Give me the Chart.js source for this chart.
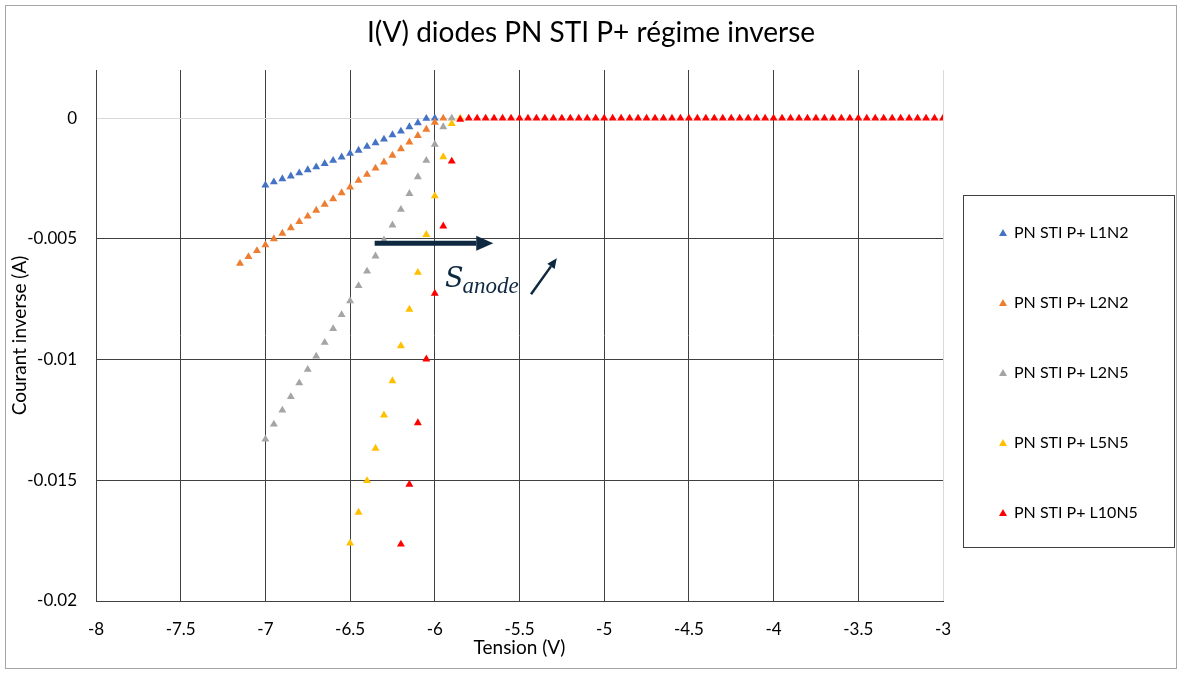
<!DOCTYPE html>
<html>
<head>
<meta charset="utf-8">
<script src="https://cdn.jsdelivr.net/npm/chart.js@4"></script>
<style>
  html, body { margin:0; padding:0; background:#fff; }
  #wrap { width:1182px; height:674px; position:relative; }
</style>
</head>
<body>
<div id="wrap"><canvas id="ivChart" width="1182" height="674"></canvas></div>
<script>
// series labels and colours
const chartTitle = 'I(V) diodes PN STI P+ régime inverse'
const seriesLabels = ['PN STI P+ L1N2','PN STI P+ L2N2','PN STI P+ L2N5','PN STI P+ L5N5','PN STI P+ L10N5']
const seriesColors = ['#4472C4','#ED7D31','#A5A5A5','#FFC000','#FF0000']

// tension (V) / courant (A)
const l1n2V = [-7.00,-6.95,-6.90,-6.85,-6.80,-6.75,-6.70,-6.65,-6.60,-6.55,-6.50,-6.45,-6.40,-6.35,-6.30,-6.25,-6.20,-6.15,-6.10,-6.05,-6.00]
const l1n2I = [-0.00277,-0.00264,-0.00251,-0.00240,-0.00227,-0.00214,-0.00202,-0.00188,-0.00175,-0.00161,-0.00146,-0.00133,-0.00117,-0.00102,-0.00087,-0.00069,-0.00054,-0.00036,-0.00019,-0.00001,0]

const l2n2V = [-7.15,-7.10,-7.05,-7.00,-6.95,-6.90,-6.85,-6.80,-6.75,-6.70,-6.65,-6.60,-6.55,-6.50,-6.45,-6.40,-6.35,-6.30,-6.25,-6.20,-6.15,-6.10,-6.05,-6.00,-5.95]
const l2n2I = [-0.00602,-0.00574,-0.00549,-0.00525,-0.00500,-0.00477,-0.00454,-0.00429,-0.00406,-0.00382,-0.00357,-0.00334,-0.00309,-0.00286,-0.00258,-0.00233,-0.00207,-0.00182,-0.00154,-0.00127,-0.00099,-0.00072,-0.00046,-0.00017,0]

const l2n5V = [-7.00,-6.95,-6.90,-6.85,-6.80,-6.75,-6.70,-6.65,-6.60,-6.55,-6.50,-6.45,-6.40,-6.35,-6.30,-6.25,-6.20,-6.15,-6.10,-6.05,-6.00,-5.95,-5.90]
const l2n5I = [-0.01330,-0.01268,-0.01210,-0.01154,-0.01097,-0.01041,-0.00986,-0.00929,-0.00872,-0.00814,-0.00757,-0.00694,-0.00634,-0.00571,-0.00505,-0.00443,-0.00378,-0.00312,-0.00243,-0.00175,-0.00108,-0.00036,0]

const l5n5V = [-6.50,-6.45,-6.40,-6.35,-6.30,-6.25,-6.20,-6.15,-6.10,-6.05,-6.00,-5.95,-5.90,-5.85]
const l5n5I = [-0.01761,-0.01633,-0.01502,-0.01368,-0.01230,-0.01088,-0.00943,-0.00792,-0.00639,-0.00482,-0.00322,-0.00160,-0.00022,0]

const l10n5V = [-6.20,-6.15,-6.10,-6.05,-6.00,-5.95,-5.90,-5.85,-5.80,-5.75,-5.70,-5.65,-5.60,-5.55,-5.50,-5.45,-5.40,-5.35,-5.30,-5.25,-5.20,-5.15,-5.10,-5.05,-5.00,-4.95,-4.90,-4.85,-4.80,-4.75,-4.70,-4.65,-4.60,-4.55,-4.50,-4.45,-4.40,-4.35,-4.30,-4.25,-4.20,-4.15,-4.10,-4.05,-4.00,-3.95,-3.90,-3.85,-3.80,-3.75,-3.70,-3.65,-3.60,-3.55,-3.50,-3.45,-3.40,-3.35,-3.30,-3.25,-3.20,-3.15,-3.10,-3.05,-3.00]
const l10n5I = [-0.01765,-0.01517,-0.01262,-0.00998,-0.00726,-0.00447,-0.00178,-0.00005,0,0,0,0,0,0,0,0,0,0,0,0,0,0,0,0,0,0,0,0,0,0,0,0,0,0,0,0,0,0,0,0,0,0,0,0,0,0,0,0,0,0,0,0,0,0,0,0,0,0,0,0,0,0,0,0,0]

// axis ticks
const xTicks = [-8,-7.5,-7,-6.5,-6,-5.5,-5,-4.5,-4,-3.5,-3]
const yTicks = [-0.02,-0.015,-0.01,-0.005,0]

// annotation (arrows + S_anode), in data units
const mainArrow = {from:[-6.355,-0.00518], to:[-5.655,-0.00518]}
const smallArrow = {from:[-5.432,-0.00729], to:[-5.28,-0.0058]}
const sLabelPos = [-5.94,-0.00700]

const allV = [l1n2V,l2n2V,l2n5V,l5n5V,l10n5V]
const allI = [l1n2I,l2n2I,l2n5I,l5n5I,l10n5I]

const FONT = 'Lato, "Open Sans", sans-serif'
const INK = '#0E2841'

function toPts(vs, is) { return vs.map((v,i) => ({x:v, y:is[i]})) }

function arrow(ctx, x1, y1, x2, y2, w, headL, headW) {
  const a = Math.atan2(y2-y1, x2-x1)
  const bx = x2 - Math.cos(a)*headL, by = y2 - Math.sin(a)*headL
  ctx.save()
  ctx.strokeStyle = INK; ctx.fillStyle = INK; ctx.lineWidth = w; ctx.lineCap = 'butt'
  ctx.beginPath(); ctx.moveTo(x1,y1); ctx.lineTo(bx,by); ctx.stroke()
  ctx.beginPath()
  ctx.moveTo(x2,y2)
  ctx.lineTo(bx + Math.sin(a)*headW/2, by - Math.cos(a)*headW/2)
  ctx.lineTo(bx - Math.sin(a)*headW/2, by + Math.cos(a)*headW/2)
  ctx.closePath(); ctx.fill()
  ctx.restore()
}

// white background, outer frame and title centred on the whole canvas
const framePlugin = {
  id:'frame',
  beforeDraw(chart) {
    const ctx = chart.ctx
    ctx.save()
    ctx.fillStyle = '#fff'; ctx.fillRect(0,0,chart.width,chart.height)
    ctx.strokeStyle = '#A6A6A6'; ctx.lineWidth = 1
    ctx.strokeRect(5.5,5.5,chart.width-11,chart.height-11)
    ctx.fillStyle = '#000'; ctx.textAlign = 'center'; ctx.textBaseline = 'middle'
    ctx.font = '28px ' + FONT
    ctx.fillText(chartTitle, chart.width/2, 33)
    ctx.restore()
  }
}

const annotPlugin = {
  id:'annot',
  afterDraw(chart) {
    const ctx = chart.ctx, xs = chart.scales.x, ys = chart.scales.y
    const px = p => [xs.getPixelForValue(p[0]), ys.getPixelForValue(p[1])]
    let a = px(mainArrow.from), b = px(mainArrow.to)
    arrow(ctx, a[0], a[1], b[0], b[1], 5, 17, 15)
    a = px(smallArrow.from); b = px(smallArrow.to)
    arrow(ctx, a[0], a[1], b[0], b[1], 2.5, 10, 9)
    const s = px(sLabelPos)
    ctx.save()
    ctx.fillStyle = INK; ctx.textBaseline = 'alphabetic'; ctx.textAlign = 'left'
    ctx.font = 'italic 27px "DejaVu Serif", "Liberation Serif", serif'
    ctx.fillText('S', s[0], s[1])
    const sw = ctx.measureText('S').width
    ctx.font = 'italic 23px "Liberation Serif", "DejaVu Serif", serif'
    ctx.fillText('anode', s[0] + sw - 1, s[1] + 6)
    ctx.restore()
  }
}

// legend drawn in a framed box like the original
const boxLegend = {
  id:'boxLegend',
  afterDraw(chart) {
    const ctx = chart.ctx
    const left = 963.5, top = 195.5, w = 211, h = 352
    ctx.save()
    ctx.strokeStyle = '#404040'; ctx.lineWidth = 1
    ctx.strokeRect(left, top, w, h)
    ctx.font = '16px ' + FONT; ctx.textBaseline = 'middle'; ctx.fillStyle = '#000'
    chart.data.datasets.forEach((ds, i) => {
      const cy = 233 + i*70
      ctx.fillStyle = ds.backgroundColor
      ctx.beginPath()
      ctx.moveTo(1003, cy-4); ctx.lineTo(1007, cy+3); ctx.lineTo(999, cy+3); ctx.closePath(); ctx.fill()
      ctx.fillStyle = '#000'
      ctx.fillText(ds.label, 1014, cy)
    })
    ctx.restore()
  }
}

function initChart() {
  const el = document.getElementById('ivChart')
  if (!el) { console.error('canvas not found'); return }

  const datasets = seriesLabels.map((lab, i) => ({
    label: lab,
    data: toPts(allV[i], allI[i]),
    backgroundColor: seriesColors[i],
    borderColor: seriesColors[i],
    pointStyle: 'triangle',
    pointRadius: 4.6,
    pointBorderWidth: 0,
    showLine: false,
    order: seriesLabels.length - i   // last series on top
  }))

  new Chart(el, {
    type: 'scatter',
    data: { datasets },
    options: {
      responsive: false,
      animation: false,
      layout: { padding: { left: 6, right: 239, top: 70, bottom: 11 } },
      plugins: {
        legend: { display: false },
        tooltip: { enabled: false },
        title: { display: false }
      },
      scales: {
        x: {
          type: 'linear', min: -8, max: -3,
          afterBuildTicks: ax => { ax.ticks = xTicks.map(v => ({value:v})) },
          afterFit: ax => { ax.height = 62 },
          grid: {
            drawTicks: false,
            color: c => (c.tick && c.tick.value === -3) ? '#D9D9D9' : '#404040'
          },
          border: { color: '#404040' },
          ticks: { color: '#000', padding: 18, font: { family: FONT, size: 17 }, callback: v => String(v) },
          title: { display: true, text: 'Tension (V)', color: '#000', font: { family: FONT, size: 19 } }
        },
        y: {
          type: 'linear', min: -0.02, max: 0.002,
          afterBuildTicks: ax => { ax.ticks = yTicks.map(v => ({value:v})) },
          afterFit: ax => { ax.width = 90 },
          grid: {
            drawTicks: false,
            color: c => (c.tick && c.tick.value === 0) ? '#D9D9D9' : '#404040'
          },
          border: { color: '#404040' },
          ticks: { color: '#000', padding: 19, font: { family: FONT, size: 17 }, callback: v => String(+v.toFixed(3)) },
          title: { display: true, text: 'Courant inverse (A)', color: '#000', font: { family: FONT, size: 19 }, padding: { top: 2, bottom: 4 } }
        }
      }
    },
    plugins: [framePlugin, annotPlugin, boxLegend]
  })
}

document.addEventListener('DOMContentLoaded', initChart)
</script>
</body>
</html>
